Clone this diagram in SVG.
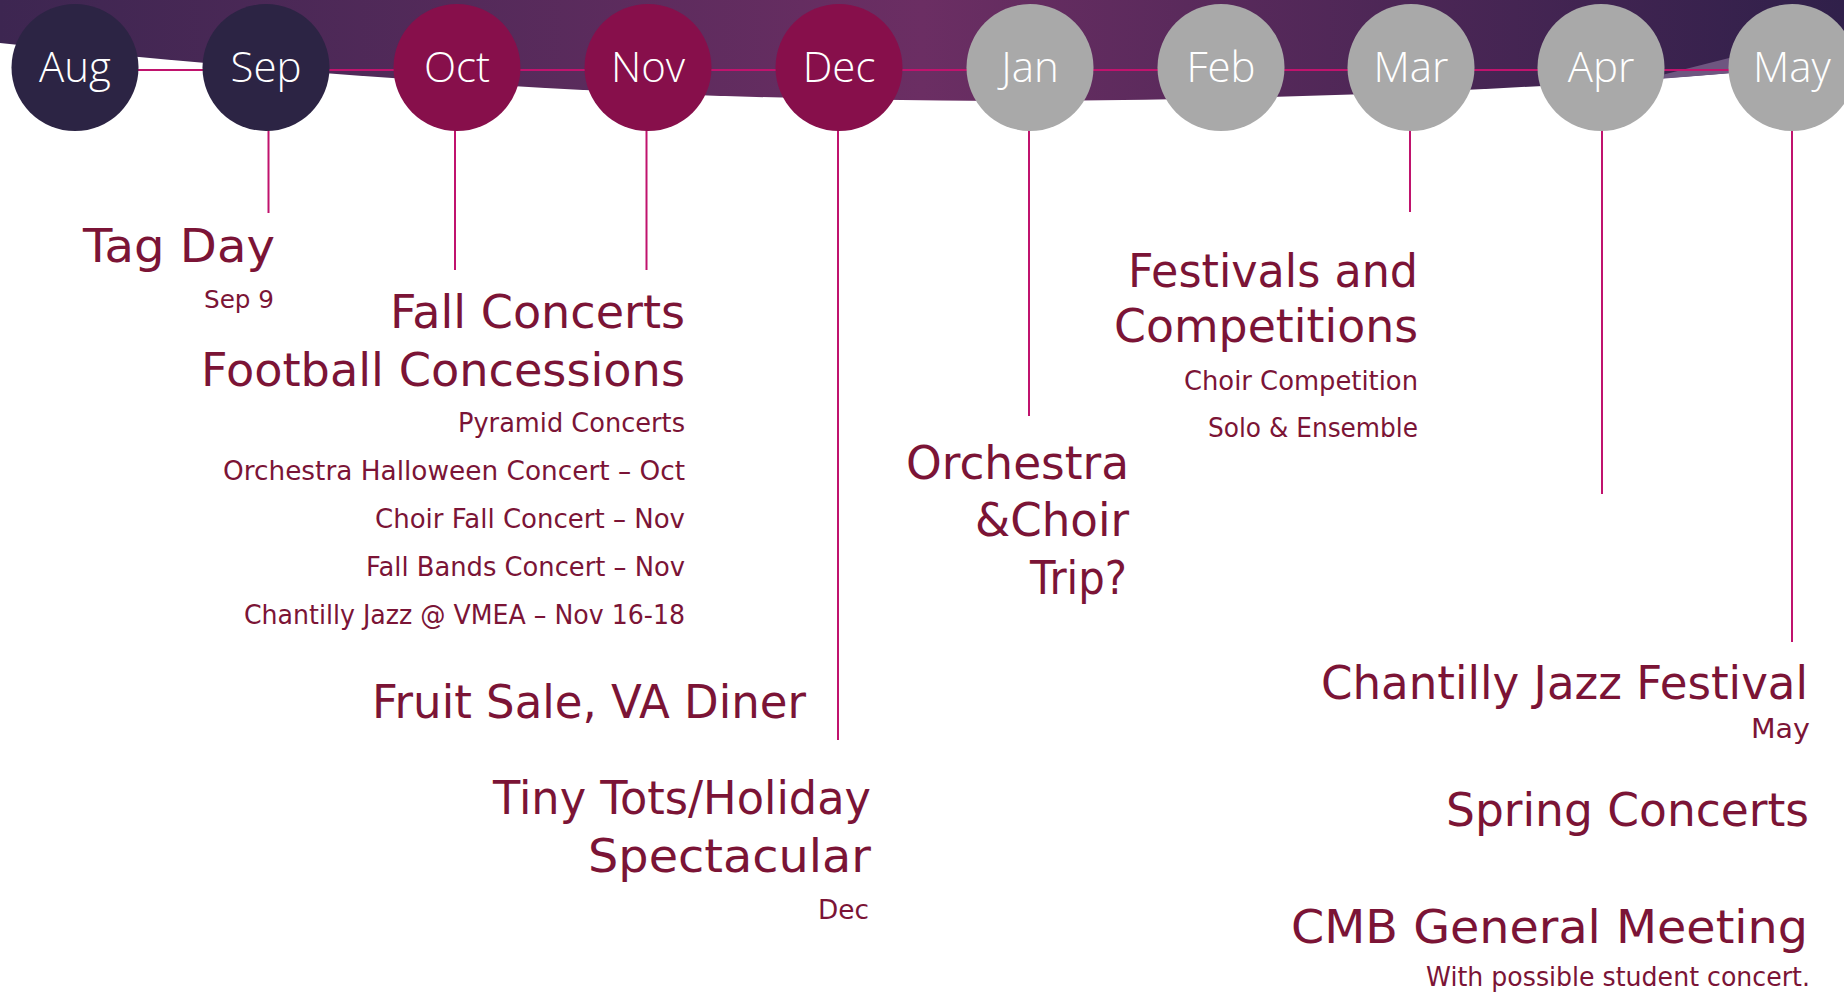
<svg xmlns="http://www.w3.org/2000/svg" width="1844" height="994" viewBox="0 0 1844 994">
<defs>
<linearGradient id="band" x1="0" y1="0" x2="1844" y2="0" gradientUnits="userSpaceOnUse">
<stop offset="0" stop-color="#3d2651"/>
<stop offset="0.5" stop-color="#6b2e63"/>
<stop offset="1" stop-color="#30204a"/>
</linearGradient>
<style>
.conn{stroke:#c0136d;stroke-width:2;fill:none}
.dark{fill:#2c2444}
.mag{fill:#870f4b}
.grey{fill:#a9a9a9}
.mon{font-family:"Open Sans","Liberation Sans",Arial,sans-serif;font-weight:300;font-size:42px;fill:#ffffff;text-anchor:middle}
.big{font-family:"DejaVu Sans",sans-serif;font-size:46px;fill:#7b1436;text-anchor:end}
.sm{font-family:"DejaVu Sans",sans-serif;font-size:26px;fill:#7b1436;text-anchor:end}
</style>
</defs>
<rect width="1844" height="994" fill="#ffffff"/>
<path d="M0,0 H1844 V62 C1600,88 1300,100 1000,101 C700,100 400,85 0,43 Z" fill="url(#band)"/>
<polygon points="1640,80.5 1745,54 1745,72" fill="#6e5680"/>
<g id="connectors">
<line class="conn" x1="75" y1="70" x2="1792" y2="70"/>
<line class="conn" x1="268.5" y1="100" x2="268.5" y2="213"/>
<line class="conn" x1="455" y1="100" x2="455" y2="270"/>
<line class="conn" x1="646.5" y1="100" x2="646.5" y2="270"/>
<line class="conn" x1="838" y1="100" x2="838" y2="740"/>
<line class="conn" x1="1029" y1="100" x2="1029" y2="416"/>
<line class="conn" x1="1410" y1="100" x2="1410" y2="212"/>
<line class="conn" x1="1602" y1="100" x2="1602" y2="494"/>
<line class="conn" x1="1792" y1="100" x2="1792" y2="642"/>
</g>
<g id="aug"><circle class="dark" cx="75" cy="67.5" r="63.5"/><text class="mon" x="75" y="82">Aug</text></g>
<g id="sep"><circle class="dark" cx="266" cy="67.5" r="63.5"/><text class="mon" x="266" y="82">Sep</text></g>
<g id="oct"><circle class="mag" cx="457" cy="67.5" r="63.5"/><text class="mon" x="457" y="82">Oct</text></g>
<g id="nov"><circle class="mag" cx="648" cy="67.5" r="63.5"/><text class="mon" x="648" y="82">Nov</text></g>
<g id="dec"><circle class="mag" cx="839" cy="67.5" r="63.5"/><text class="mon" x="839" y="82">Dec</text></g>
<g id="jan"><circle class="grey" cx="1030" cy="67.5" r="63.5"/><text class="mon" x="1030" y="82">Jan</text></g>
<g id="feb"><circle class="grey" cx="1221" cy="67.5" r="63.5"/><text class="mon" x="1221" y="82">Feb</text></g>
<g id="mar"><circle class="grey" cx="1411" cy="67.5" r="63.5"/><text class="mon" x="1411" y="82">Mar</text></g>
<g id="apr"><circle class="grey" cx="1601" cy="67.5" r="63.5"/><text class="mon" x="1601" y="82">Apr</text></g>
<g id="may"><circle class="grey" cx="1792" cy="67.5" r="63.5"/><text class="mon" x="1792" y="82">May</text></g>
<g id="tagday">
<text class="big" x="275" y="262" textLength="192" lengthAdjust="spacingAndGlyphs">Tag Day</text>
<text class="sm" x="274" y="308" style="font-size:25px" textLength="70" lengthAdjust="spacingAndGlyphs">Sep 9</text>
</g>
<g id="fall">
<text class="big" x="685" y="328" textLength="295" lengthAdjust="spacingAndGlyphs">Fall Concerts</text>
<text class="big" x="685" y="386" textLength="484" lengthAdjust="spacingAndGlyphs">Football Concessions</text>
<text class="sm" x="685" y="432" textLength="227" lengthAdjust="spacingAndGlyphs">Pyramid Concerts</text>
<text class="sm" x="685" y="480" textLength="462" lengthAdjust="spacingAndGlyphs">Orchestra Halloween Concert – Oct</text>
<text class="sm" x="685" y="528" textLength="310" lengthAdjust="spacingAndGlyphs">Choir Fall Concert – Nov</text>
<text class="sm" x="685" y="576" textLength="319" lengthAdjust="spacingAndGlyphs">Fall Bands Concert – Nov</text>
<text class="sm" x="685" y="624" textLength="441" lengthAdjust="spacingAndGlyphs">Chantilly Jazz @ VMEA – Nov 16-18</text>
</g>
<g id="fruit"><text class="big" x="806" y="718" textLength="434" lengthAdjust="spacingAndGlyphs">Fruit Sale, VA Diner</text></g>
<g id="tinytots">
<text class="big" x="871" y="814" textLength="378" lengthAdjust="spacingAndGlyphs">Tiny Tots/Holiday</text>
<text class="big" x="871" y="872" textLength="283" lengthAdjust="spacingAndGlyphs">Spectacular</text>
<text class="sm" x="869" y="919" textLength="51" lengthAdjust="spacingAndGlyphs">Dec</text>
</g>
<g id="trip">
<text class="big" x="1129" y="479" textLength="223" lengthAdjust="spacingAndGlyphs">Orchestra</text>
<text class="big" x="1129" y="536" textLength="154" lengthAdjust="spacingAndGlyphs">&amp;Choir</text>
<text class="big" x="1127" y="594" textLength="97" lengthAdjust="spacingAndGlyphs">Trip?</text>
</g>
<g id="festivals">
<text class="big" x="1418" y="287" textLength="290" lengthAdjust="spacingAndGlyphs">Festivals and</text>
<text class="big" x="1418" y="342" textLength="304" lengthAdjust="spacingAndGlyphs">Competitions</text>
<text class="sm" x="1418" y="390" textLength="234" lengthAdjust="spacingAndGlyphs">Choir Competition</text>
<text class="sm" x="1418" y="437" textLength="210" lengthAdjust="spacingAndGlyphs">Solo &amp; Ensemble</text>
</g>
<g id="spring">
<text class="big" x="1808" y="699" textLength="487" lengthAdjust="spacingAndGlyphs">Chantilly Jazz Festival</text>
<text class="sm" x="1810" y="738" textLength="59" lengthAdjust="spacingAndGlyphs">May</text>
<text class="big" x="1809" y="826" textLength="363" lengthAdjust="spacingAndGlyphs">Spring Concerts</text>
<text class="big" x="1808" y="943" textLength="517" lengthAdjust="spacingAndGlyphs">CMB General Meeting</text>
<text class="sm" x="1810" y="986" textLength="384" lengthAdjust="spacingAndGlyphs">With possible student concert.</text>
</g>
</svg>
